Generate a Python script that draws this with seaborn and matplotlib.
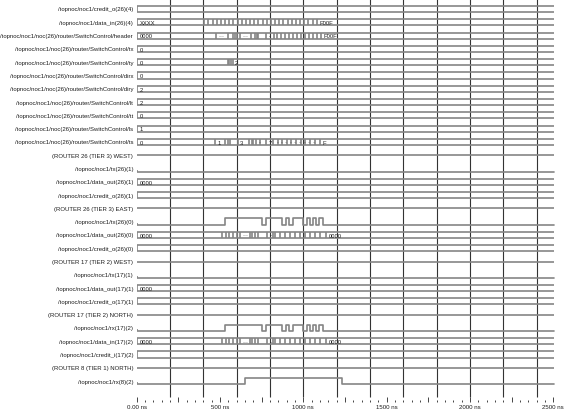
import matplotlib
matplotlib.use('Agg')
import matplotlib.pyplot as plt
from matplotlib.ticker import MultipleLocator, FuncFormatter
import seaborn as sns

# Wave window rows, top to bottom
signal_names = [
    '/topnoc/noc1/credit_o(26)(4)',
    '/topnoc/noc1/data_in(26)(4)',
    '/topnoc/noc1/noc(26)/router/SwitchControl/header',
    '/topnoc/noc1/noc(26)/router/SwitchControl/tx',
    '/topnoc/noc1/noc(26)/router/SwitchControl/ty',
    '/topnoc/noc1/noc(26)/router/SwitchControl/dirx',
    '/topnoc/noc1/noc(26)/router/SwitchControl/diry',
    '/topnoc/noc1/noc(26)/router/SwitchControl/lt',
    '/topnoc/noc1/noc(26)/router/SwitchControl/tt',
    '/topnoc/noc1/noc(26)/router/SwitchControl/ls',
    '/topnoc/noc1/noc(26)/router/SwitchControl/ts',
    '(ROUTER 26 (TIER 3) WEST)',
    '/topnoc/noc1/tx(26)(1)',
    '/topnoc/noc1/data_out(26)(1)',
    '/topnoc/noc1/credit_o(26)(1)',
    '(ROUTER 26 (TIER 3) EAST)',
    '/topnoc/noc1/tx(26)(0)',
    '/topnoc/noc1/data_out(26)(0)',
    '/topnoc/noc1/credit_o(26)(0)',
    '(ROUTER 17 (TIER 2) WEST)',
    '/topnoc/noc1/tx(17)(1)',
    '/topnoc/noc1/data_out(17)(1)',
    '/topnoc/noc1/credit_o(17)(1)',
    '(ROUTER 17 (TIER 2) NORTH)',
    '/topnoc/noc1/rx(17)(2)',
    '/topnoc/noc1/data_in(17)(2)',
    '/topnoc/noc1/credit_i(17)(2)',
    '(ROUTER 8 (TIER 1) NORTH)',
    '/topnoc/noc1/rx(8)(2)',
]

# Transition times (ns) and the value shown in each segment
data_in26_edges = [405, 430, 455, 480, 505, 530, 555, 580, 605, 630, 655, 680, 705, 730,
                   755, 780, 805, 830, 855, 880, 905, 930, 955, 980, 1005, 1030, 1055, 1080]
data_in26_labels = ['XXXX'] + [''] * 27 + ['F00F']

header_edges = [475, 550, 580, 590, 600, 620, 685, 710, 720, 730, 775, 825, 840, 865,
                890, 915, 940, 960, 985, 1010, 1035, 1060, 1080, 1105]
header_labels = ['0000', '···', '', '', '', '', '···', '', '', '', '', '-'] + [''] * 12 + ['F00F']

ty_edges = [545, 555, 565, 575]
ty_labels = ['0', '', '', '', '2']

ts_edges = [470, 530, 545, 560, 605, 675, 690, 700, 715, 740, 775, 820, 845, 870, 900,
            925, 955, 985, 1010, 1040, 1070, 1100]
ts_labels = ['0', '1', '', '', '', '3', '', '', '', '·', '', '7'] + ['·'] * 9 + ['', 'F']

flit_edges = [510, 535, 555, 575, 600, 620, 680, 690, 710, 730, 780, 815, 830, 860, 890,
              920, 950, 980, 1010, 1040, 1070, 1100, 1135]
flit_labels = ['0000', '', '', '', '', '', '···', '', '', '', '', '-', ''] + [''] * 10 + ['0000']

# single bit wires: toggle times, starting low
valid_edges = [530, 750, 775, 870, 895, 912, 935, 1000, 1020, 1040, 1058, 1076, 1094, 1120]
rx8_edges = [650, 1230]

grid_times = [200, 400, 600, 800, 1000, 1200, 1400, 1600, 1800, 2000, 2200, 2400]

# what every row shows
waves = [
    ('bus', [], ['']),
    ('bus', data_in26_edges, data_in26_labels),
    ('bus', header_edges, header_labels),
    ('bus', [], ['0']),
    ('bus', ty_edges, ty_labels),
    ('bus', [], ['0']),
    ('bus', [], ['2']),
    ('bus', [], ['2']),
    ('bus', [], ['0']),
    ('bus', [], ['1']),
    ('bus', ts_edges, ts_labels),
    ('group', None, None),
    ('bit', [], None),
    ('bus', [], ['0000']),
    ('bus', [], ['']),
    ('group', None, None),
    ('bit', valid_edges, None),
    ('bus', flit_edges, flit_labels),
    ('bus', [], ['']),
    ('group', None, None),
    ('bit', [], None),
    ('bus', [], ['0000']),
    ('bus', [], ['']),
    ('group', None, None),
    ('bit', valid_edges, None),
    ('bus', flit_edges, flit_labels),
    ('bus', [], ['']),
    ('group', None, None),
    ('bit', rx8_edges, None),
]

T_END = 2505
BUS_H = 0.23
BIT_H = 0.25
WAVE = '#858585'
GRID = '#333333'
TEXT = '#1e1e1e'
LW = 1.2


def draw_bus(ax, row, edges, labels):
    ax.hlines([row - BUS_H, row + BUS_H], 0, T_END, color=WAVE, lw=LW, zorder=2)
    starts = [0] + list(edges)
    ax.vlines(starts, row - BUS_H, row + BUS_H, color=WAVE, lw=LW, zorder=2)
    for t, text in zip(starts, labels):
        if text:
            ax.text(t + 16, row + 0.02, text, fontsize=4.2, va='center', ha='left',
                    color=TEXT, zorder=3)


def draw_bit(ax, row, edges):
    low, high = row + BIT_H, row - BIT_H
    xs, ys = [0], [low]
    level = low
    for t in edges:
        level = high if level == low else low
        xs.append(t)
        ys.append(level)
    xs.append(T_END)
    ys.append(ys[-1])
    sns.lineplot(x=xs, y=ys, ax=ax, drawstyle='steps-post', estimator=None, sort=False,
                 color=WAVE, lw=LW, legend=False, zorder=2)
    ax.vlines(0, low - 0.15, low, color=WAVE, lw=LW, zorder=2)


sns.set_theme(style='white')
plt.rcParams['font.family'] = ['Liberation Sans', 'DejaVu Sans']

fig = plt.figure(figsize=(5.67, 4.14), dpi=100)
ax = fig.add_axes([136.7 / 567, 11 / 414, 2520 * 0.16667 / 567, 403 / 414])

for row, (name, (kind, edges, labels)) in enumerate(zip(signal_names, waves)):
    if kind == 'bus':
        draw_bus(ax, row, edges, labels)
    elif kind == 'bit':
        draw_bit(ax, row, edges)
    else:
        ax.hlines(row, 0, T_END, color=WAVE, lw=LW, zorder=2)
    ax.annotate(name, xy=(0, row), xycoords='data', xytext=(-2.6, 0),
                textcoords='offset points', ha='right', va='center', fontsize=4.3,
                color=TEXT, annotation_clip=False)

# cursor grid
ax.vlines(grid_times, 0.012, 1, transform=ax.get_xaxis_transform(), color=GRID,
          lw=0.8, zorder=1)

ax.set_xlim(0, 2520)
ax.set_ylim(29.57, -0.752)
ax.set_xlabel('')
ax.set_ylabel('')
ax.set_yticks([])
ax.xaxis.set_major_locator(MultipleLocator(250))
ax.xaxis.set_minor_locator(MultipleLocator(50))
ax.xaxis.set_major_formatter(FuncFormatter(
    lambda v, _: '0.00 ns' if v == 0 else (f'{v:.0f} ns' if v % 500 == 0 else '')))
ax.tick_params(axis='x', which='major', direction='in', length=3.6, width=0.7,
               color='#444444', labelsize=4.4, labelcolor=TEXT, pad=1.6, bottom=True)
ax.tick_params(axis='x', which='minor', direction='in', length=1.5, width=0.7,
               color='#444444', bottom=True)
for s in ax.spines.values():
    s.set_visible(False)

fig.savefig('out.png', dpi=100)
